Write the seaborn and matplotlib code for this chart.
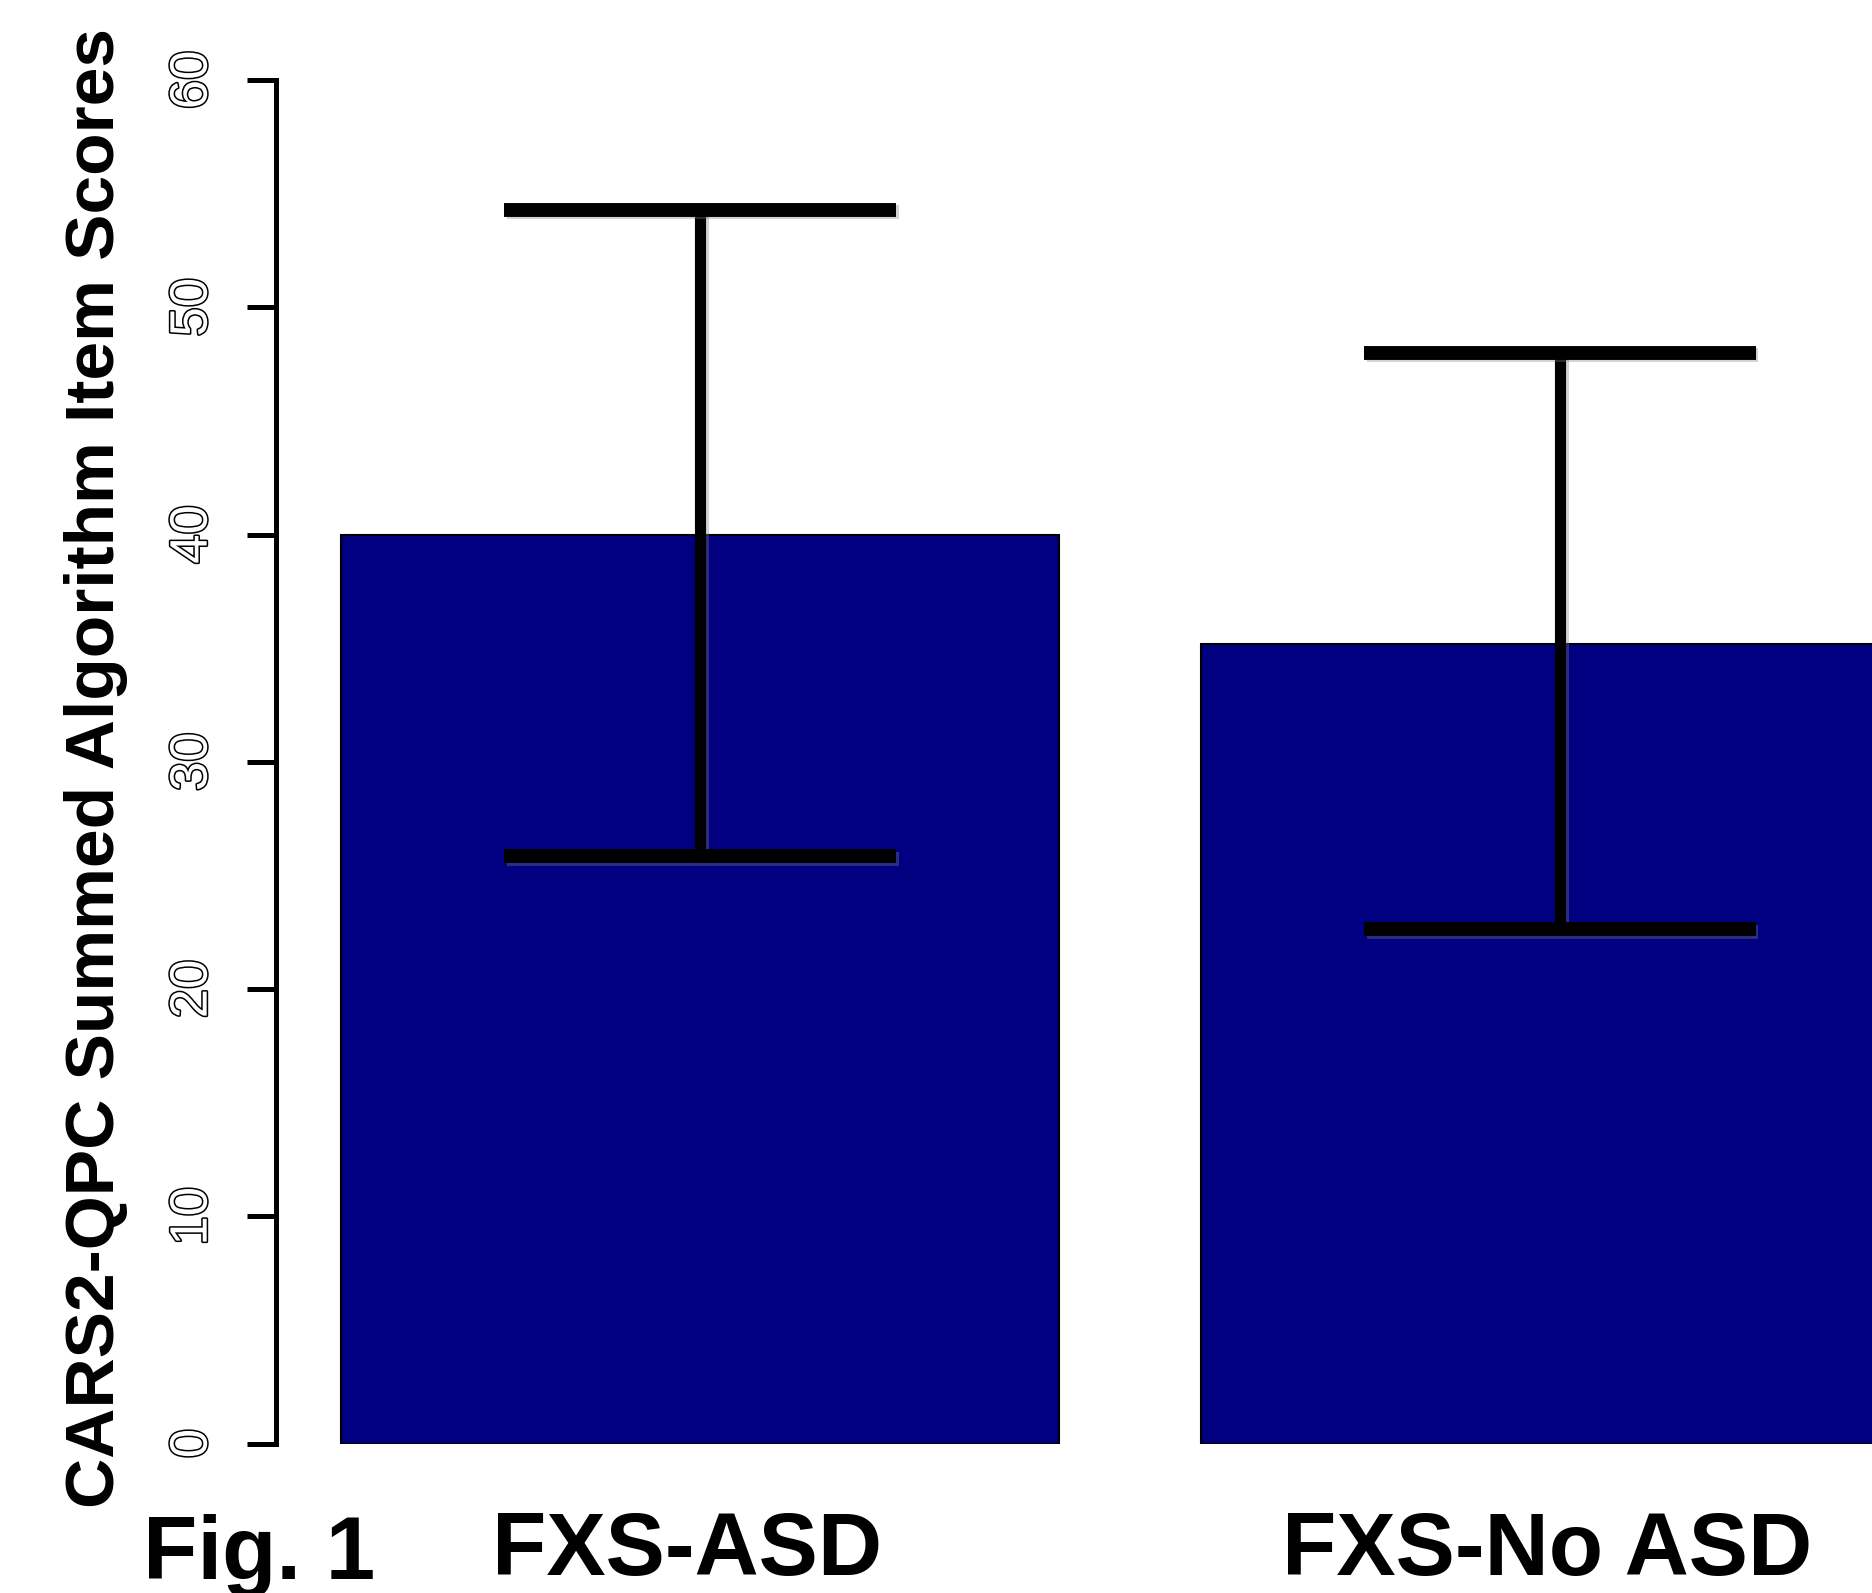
import numpy as np
import matplotlib
matplotlib.use('Agg')
import matplotlib.pyplot as plt
import matplotlib.patheffects as pe
from matplotlib.transforms import ScaledTranslation
import seaborn as sns

# values
groups = ['FXS-ASD', 'FXS-No ASD']
means = [40.0, 35.2]
err_low = [25.85, 22.65]
err_high = [54.3, 48.0]
y_ticks = [0, 10, 20, 30, 40, 50, 60]

sns.set_style('white')
plt.rcParams['font.family'] = ['Liberation Sans', 'DejaVu Sans']
plt.rcParams['text.color'] = 'black'
plt.rcParams['xtick.color'] = 'black'
plt.rcParams['ytick.color'] = 'black'

fig = plt.figure(figsize=(18.72, 15.93), dpi=100)
ax = fig.add_axes([276 / 1872, 0.0938, 1 - 276 / 1872, 0.9498 - 0.0938])

sns.barplot(x=groups, y=means, color='#000080', saturation=1, width=0.835,
            edgecolor='black', linewidth=1.5, ax=ax)

m = np.array(means)
yerr = [m - np.array(err_low), np.array(err_high) - m]
eb = ax.errorbar(x=[0, 1], y=m, yerr=yerr, fmt='none', ecolor='black',
                 elinewidth=8, capsize=141, capthick=10)
shadow = [pe.SimpleLineShadow(offset=(2, -2), shadow_color='gray', alpha=0.35), pe.Normal()]
for cl in eb[1]:
    cl.set_path_effects(shadow)
for bl in eb[2]:
    bl.set_path_effects(shadow)

ax.set_xlim(-0.493, 1.363)
ax.set_ylim(0, 60)
ax.set_yticks(y_ticks)
ax.set_yticklabels([str(t) for t in y_ticks], rotation=90, va='center',
                   family=['Liberation Sans Narrow', 'Liberation Sans'],
                   fontsize=38, color='white')
for lab in ax.get_yticklabels():
    lab.set_path_effects([pe.withStroke(linewidth=2.2, foreground='black')])
ax.tick_params(axis='y', length=21, width=3.6, color='black', pad=21, left=True)
ax.tick_params(axis='x', length=0, pad=48)
ax.set_xticks([0, 1])
ax.set_xticklabels(groups, fontsize=64, fontweight='bold', color='black')
shift = ScaledTranslation(-0.13, 0, fig.dpi_scale_trans)
for lab in ax.get_xticklabels():
    lab.set_transform(lab.get_transform() + shift)

for s in ['top', 'right', 'bottom']:
    ax.spines[s].set_visible(False)
ax.spines['left'].set_linewidth(3.6)
ax.spines['left'].set_color('black')
ax.set_xlabel('')
ax.set_ylabel('')

fig.text(96 / 1872, 0.518, 'CARS2-QPC Summed Algorithm Item Scores', rotation=90,
         ha='center', va='center', fontsize=50, fontweight='bold', color='black')
fig.text(143 / 1872, 14 / 1593, 'Fig. 1', ha='left', va='baseline',
         fontsize=64, fontweight='bold', color='black')

fig.savefig('out.png', dpi=100, facecolor='white')
